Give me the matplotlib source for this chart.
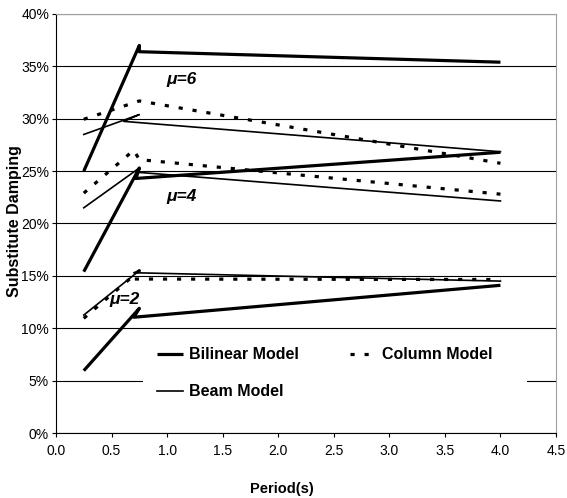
import matplotlib
matplotlib.use("Agg")
import matplotlib.pyplot as plt
from matplotlib.patches import Rectangle
from matplotlib.ticker import FuncFormatter, MultipleLocator

plt.rcParams['font.family'] = ['Liberation Sans', 'DejaVu Sans']

# ========================
# DATA (period in s, damping in %)
# ========================
bilinear_mu6_x = [0.25, 0.75, 0.75, 4.0]
bilinear_mu6_y = [25.0, 37.0, 36.4, 35.4]
bilinear_mu4_x = [0.25, 0.75, 0.72, 4.0]
bilinear_mu4_y = [15.4, 25.3, 24.3, 26.8]
bilinear_mu2_x = [0.25, 0.75, 0.70, 4.0]
bilinear_mu2_y = [5.95, 11.9, 11.05, 14.1]

column_mu6_x = [0.25, 0.75, 4.0]
column_mu6_y = [29.95, 31.7, 25.75]
column_mu4_x = [0.25, 0.70, 0.75, 4.0]
column_mu4_y = [22.9, 27.0, 26.1, 22.8]
column_mu2_x = [0.25, 0.75, 0.70, 4.0]
column_mu2_y = [10.95, 15.5, 14.7, 14.65]

beam_mu6_x = [0.25, 0.75, 0.61, 4.0]
beam_mu6_y = [28.5, 30.4, 29.75, 26.85]
beam_mu4_x = [0.25, 0.75, 0.72, 4.0]
beam_mu4_y = [21.5, 25.3, 24.9, 22.15]
beam_mu2_x = [0.25, 0.75, 0.70, 4.0]
beam_mu2_y = [11.26, 15.5, 15.3, 14.5]

mu_labels = ['μ=6', 'μ=4', 'μ=2']
mu_label_x = [1.13, 1.13, 0.62]
mu_label_y = [33.7, 22.6, 12.7]

# ========================
# PLOT
# ========================
fig = plt.figure(figsize=(5.67, 4.98), dpi=100)
ax = fig.add_axes([56 / 567, 65 / 498, 500 / 567, 419 / 498])

bil_style = dict(color='black', linewidth=2.3, solid_capstyle='butt')
col_style = dict(color='black', linewidth=2.3, linestyle=(0, (1.3, 3.1)), dash_capstyle='butt')
beam_style = dict(color='black', linewidth=1.2)

ax.plot(bilinear_mu6_x, bilinear_mu6_y, label='Bilinear Model', **bil_style)
ax.plot(bilinear_mu4_x, bilinear_mu4_y, **bil_style)
ax.plot(bilinear_mu2_x, bilinear_mu2_y, **bil_style)

ax.plot(beam_mu6_x, beam_mu6_y, label='Beam Model', **beam_style)
ax.plot(beam_mu4_x, beam_mu4_y, **beam_style)
ax.plot(beam_mu2_x, beam_mu2_y, **beam_style)

ax.plot(column_mu6_x, column_mu6_y, label='Column Model', **col_style)
ax.plot(column_mu4_x, column_mu4_y, **col_style)
ax.plot(column_mu2_x, column_mu2_y, **col_style)

for lbl, lx, ly in zip(mu_labels, mu_label_x, mu_label_y):
    ax.text(lx, ly, lbl, fontsize=12.5, fontweight='bold', fontstyle='italic',
            ha='center', va='center')

ax.set_xlim(0, 4.5)
ax.set_ylim(0, 40)
ax.xaxis.set_major_locator(MultipleLocator(0.5))
ax.yaxis.set_major_locator(MultipleLocator(5))
ax.yaxis.set_major_formatter(FuncFormatter(lambda v, p: f"{v:.0f}%"))
ax.xaxis.set_major_formatter(FuncFormatter(lambda v, p: f"{v:.1f}"))
ax.tick_params(axis='both', direction='out', length=3, width=0.8, labelsize=10)
ax.tick_params(axis='x', pad=5)
ax.tick_params(axis='y', pad=2)

ax.grid(axis='y', color='black', linewidth=0.8)
ax.set_axisbelow(True)
for side in ['top', 'right']:
    ax.spines[side].set_color('#a0a0a0')
ax.spines['left'].set_linewidth(0.8)
ax.spines['bottom'].set_linewidth(0.8)

ax.set_xlabel('Period(s)', fontsize=10.5, fontweight='bold')
ax.xaxis.set_label_coords(0.452, -0.118)
ax.set_ylabel('Substitute Damping', fontsize=11.5, fontweight='bold')
ax.yaxis.set_label_coords(-0.068, 0.505)

# white legend area hiding the gridline behind it
ax.add_patch(Rectangle((0.174, 0.067), 0.768, 0.155, transform=ax.transAxes,
                       facecolor='white', edgecolor='none', zorder=1.5))

leg = ax.legend(ncol=2, loc='upper left', bbox_to_anchor=(0.186, 0.224),
                frameon=False, borderpad=0, handlelength=1.6, handletextpad=0.4,
                columnspacing=3.2, labelspacing=1.4,
                prop={'weight': 'bold', 'size': 11.5})

fig.savefig('out.png', dpi=100)
